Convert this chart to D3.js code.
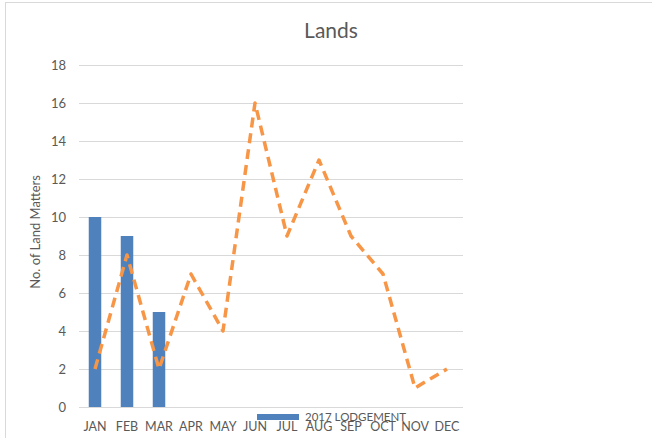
<!DOCTYPE html>
<html>
<head>
<meta charset="utf-8">
<script src="https://cdn.jsdelivr.net/npm/d3@7"></script>
<style>
html,body{margin:0;padding:0;background:#fff;}
svg{display:block;}
text{font-family:Lato,"Open Sans",sans-serif;fill:#595959;}
</style>
</head>
<body>
<svg id="chart" width="652" height="438"></svg>
<script>
const months = ["JAN","FEB","MAR","APR","MAY","JUN","JUL","AUG","SEP","OCT","NOV","DEC"];
const barMonths = ["JAN","FEB","MAR"];
const barValues = [10, 9, 5];
const lineValues = [2, 8, 2, 7, 4, 16, 9, 13, 9, 7, 1, 2];
const yTicks = [0, 2, 4, 6, 8, 10, 12, 14, 16, 18];
const titleText = "Lands";
const yTitle = "No. of Land Matters";
const legendLabel = "2017 LODGEMENT";

const svg = d3.select("#chart");
const W = 652, H = 438;
const m = {left: 79, right: 189, top: 65, bottom: 31};

// outer chart border
svg.append("rect").attr("x", 5.5).attr("y", 2.5).attr("width", W + 10).attr("height", H + 10)
  .attr("fill", "#fff").attr("stroke", "#d9d9d9").attr("stroke-width", 1);

const x = d3.scaleBand().domain(months).range([m.left, W - m.right]).paddingInner(0).paddingOuter(0);
const y = d3.scaleLinear().domain([0, 18]).range([H - m.bottom, m.top]);

// gridlines
svg.append("g").selectAll("line").data(yTicks.filter(d => d > 0)).join("line")
  .attr("x1", m.left).attr("x2", W - m.right)
  .attr("y1", d => Math.round(y(d)) + 0.5).attr("y2", d => Math.round(y(d)) + 0.5)
  .attr("stroke", "#d9d9d9").attr("stroke-width", 1);

// y axis labels
const yAxis = d3.axisLeft(y).tickValues(yTicks).tickSize(0).tickPadding(13);
const gy = svg.append("g").attr("transform", `translate(${m.left},0)`).call(yAxis);
gy.select(".domain").remove();
gy.selectAll("text").attr("font-size", 13).attr("fill", "#595959")
  .style("font-family", "Lato, 'Open Sans', sans-serif");

// bars
const bw = 12.5;
svg.append("g").selectAll("rect").data(barMonths.map((mth, i) => ({m: mth, v: barValues[i]}))).join("rect")
  .attr("x", d => x(d.m) + x.bandwidth() / 2 - bw / 2)
  .attr("width", bw)
  .attr("y", d => y(d.v))
  .attr("height", d => y(0) - y(d.v))
  .attr("fill", "#4F81BD");

// x axis baseline
svg.append("line").attr("x1", m.left).attr("x2", W - m.right)
  .attr("y1", Math.round(y(0)) + 0.5).attr("y2", Math.round(y(0)) + 0.5)
  .attr("stroke", "#d9d9d9").attr("stroke-width", 1);

// x axis labels
const xAxis = d3.axisBottom(x).tickSize(0).tickPadding(15.5);
const gx = svg.append("g").attr("transform", `translate(0,${y(0)})`).call(xAxis);
gx.select(".domain").remove();
gx.selectAll("text").attr("font-size", 12.5).attr("fill", "#595959")
  .style("font-family", "Lato, 'Open Sans', sans-serif");

// dashed line
const line = d3.line().x((d, i) => x(months[i]) + x.bandwidth() / 2).y(d => y(d));
svg.append("path").datum(lineValues).attr("d", line)
  .attr("fill", "none").attr("stroke", "#F79646").attr("stroke-width", 3.5)
  .attr("stroke-dasharray", "10,6").attr("stroke-linejoin", "round");

// title
svg.append("text").attr("x", 331).attr("y", 38).attr("text-anchor", "middle")
  .attr("font-size", 21).attr("fill", "#404040").text(titleText);

// y title
svg.append("text").attr("transform", "translate(40,232) rotate(-90)")
  .attr("text-anchor", "middle").attr("font-size", 13).text(yTitle);

// legend
const lg = svg.append("g");
lg.append("rect").attr("x", 257).attr("y", 414).attr("width", 42).attr("height", 6).attr("fill", "#4F81BD");
lg.append("text").attr("x", 305).attr("y", 421).attr("font-size", 11.5).text(legendLabel);
</script>
</body>
</html>
